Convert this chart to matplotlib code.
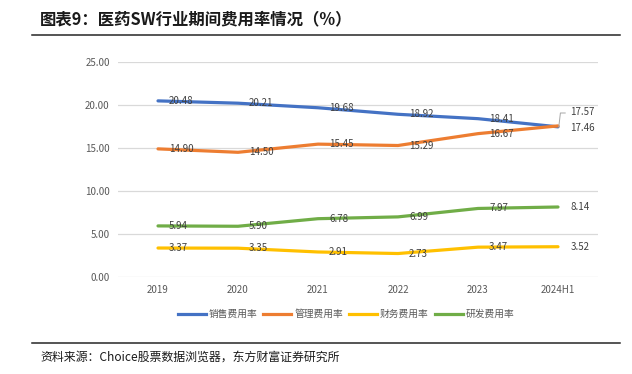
import matplotlib.pyplot as plt
from matplotlib.lines import Line2D

plt.rcParams['font.family'] = ['Noto Sans CJK SC', 'DejaVu Sans']

# data
years = ['2019', '2020', '2021', '2022', '2023', '2024H1']
sales = [20.48, 20.21, 19.68, 18.92, 18.41, 17.46]
admin = [14.90, 14.50, 15.45, 15.29, 16.67, 17.57]
finance = [3.37, 3.35, 2.91, 2.73, 3.47, 3.52]
rnd = [5.94, 5.90, 6.78, 6.99, 7.97, 8.14]
names = ['销售费用率', '管理费用率', '财务费用率', '研发费用率']
colors = ['#4472C4', '#ED7D31', '#FFC000', '#70AD47']

W, H = 632, 374
fig = plt.figure(figsize=(W / 100, H / 100), dpi=100)
ax = fig.add_axes([118 / W, 1 - 277 / H, 480 / W, 215 / H])

x = list(range(len(years)))
series = [sales, admin, finance, rnd]
for vals, c, n in zip(series, colors, names):
    ax.plot(x, vals, color=c, lw=2.3, label=n, solid_capstyle='round')

ax.set_xlim(-0.5, len(years) - 0.5)
ax.set_ylim(0, 25)
ax.set_yticks([0, 5, 10, 15, 20, 25])
ax.set_yticklabels(['%.2f' % v for v in [0, 5, 10, 15, 20, 25]])
ax.set_xticks(x)
ax.set_xticklabels(years)
ax.tick_params(length=0, labelsize=7, colors='#595959', pad=6)
ax.grid(axis='y', color='#D9D9D9', lw=0.9)
ax.set_axisbelow(True)
for s in ax.spines.values():
    s.set_visible(False)

# data labels (right of each point)
lab_col = '#404040'
for vals in series:
    for i, v in enumerate(vals[:-1]):
        ax.annotate('%.2f' % v, (i, v), xytext=(8, 0), textcoords='offset points',
                    ha='left', va='center', fontsize=7, color=lab_col)

last = len(years) - 1
ax.annotate('%.2f' % sales[-1], (last, sales[-1]), xytext=(9, -0.5), textcoords='offset points',
            ha='left', va='center', fontsize=7, color=lab_col, annotation_clip=False)
ax.annotate('%.2f' % admin[-1], (last, admin[-1]), xytext=(9, 10), textcoords='offset points',
            ha='left', va='center', fontsize=7, color=lab_col, annotation_clip=False)
ax.plot([last + 0.01, last + 0.03, last + 0.09], [sales[-1], admin[-1] + 1.5, admin[-1] + 1.5],
        color='#A6A6A6', lw=0.7, clip_on=False)
for vals in [finance, rnd]:
    ax.annotate('%.2f' % vals[-1], (last, vals[-1]), xytext=(9, 0), textcoords='offset points',
                ha='left', va='center', fontsize=7, color=lab_col, annotation_clip=False)

handles = [Line2D([], [], color=c, lw=2.3) for c in colors]
leg = fig.legend(handles, names, loc='center', bbox_to_anchor=(346 / W, 1 - 314 / H), ncol=4,
                 frameon=False, fontsize=7, handlelength=2.9, columnspacing=0.6, handletextpad=0.3)
for t in leg.get_texts():
    t.set_color('#595959')

# title, rules, source
fig.text(40 / W, 1 - 19 / H, '图表9：医药SW行业期间费用率情况（%）', fontsize=11.8,
         fontweight='bold', va='center', ha='left', color='#1a1a1a')
fig.add_artist(Line2D([32 / W, 620 / W], [1 - 35 / H, 1 - 35 / H], color='#262626', lw=1.1))
fig.add_artist(Line2D([32 / W, 620 / W], [1 - 343 / H, 1 - 343 / H], color='#262626', lw=1.1))
fig.text(40 / W, 1 - 357 / H, '资料来源：Choice股票数据浏览器，东方财富证券研究所', fontsize=8.6,
         va='center', ha='left', color='#1a1a1a')

fig.savefig('out.png', dpi=100)
